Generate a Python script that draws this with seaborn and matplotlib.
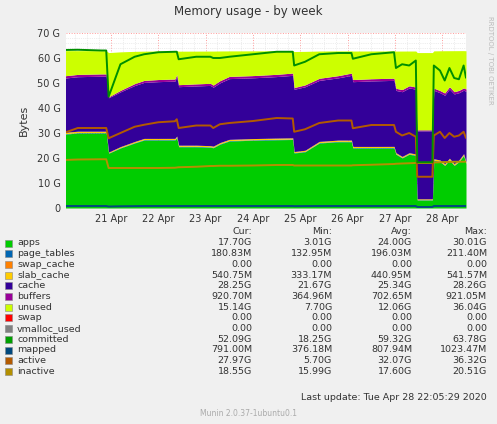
import numpy as np
import pandas as pd
import seaborn as sns
import matplotlib.pyplot as plt

# time in days since 20 Apr 00:00
t = [0.0, 0.3, 0.8, 0.9, 0.95, 1.2, 1.5, 1.7, 2.0, 2.35, 2.39, 2.43, 2.8, 3.1, 3.16, 3.3, 3.5, 4.0, 4.5, 4.84,
     4.87, 5.1, 5.4, 5.8, 6.08, 6.11, 6.5, 6.98, 7.02, 7.15, 7.3, 7.44, 7.47, 7.79, 7.82, 7.95, 8.05, 8.15, 8.25,
     8.35, 8.45, 8.5]
apps = [29.5, 30.0, 30.0, 30.0, 21.9, 24.0, 26.0, 27.2, 27.2, 27.2, 28.1, 24.5, 24.5, 24.3, 24.1, 25.5, 26.8, 27.1,
        27.3, 27.4, 22.0, 22.5, 26.0, 26.5, 26.5, 24.0, 24.0, 24.0, 21.5, 20.0, 21.5, 21.0, 3.2, 3.2, 19.0, 18.5,
        17.0, 19.2, 17.0, 18.5, 21.0, 17.7]
page_tables = [0.18, 0.18, 0.18, 0.18, 0.15, 0.16, 0.17, 0.18, 0.18, 0.18, 0.19, 0.18, 0.18, 0.18, 0.18, 0.19, 0.19,
               0.19, 0.19, 0.19, 0.17, 0.17, 0.18, 0.19, 0.19, 0.18, 0.18, 0.19, 0.18, 0.18, 0.18, 0.18, 0.13, 0.13,
               0.18, 0.18, 0.18, 0.18, 0.18, 0.18, 0.19, 0.18]
slab_cache = [0.54, 0.54, 0.54, 0.54, 0.34, 0.40, 0.44, 0.46, 0.46, 0.47, 0.48, 0.45, 0.45, 0.45, 0.45, 0.46, 0.47,
              0.48, 0.48, 0.48, 0.42, 0.43, 0.46, 0.47, 0.47, 0.45, 0.45, 0.46, 0.44, 0.44, 0.44, 0.44, 0.34, 0.34,
              0.52, 0.53, 0.53, 0.54, 0.54, 0.54, 0.54, 0.54]
cache = [21.7, 21.8, 22.0, 22.0, 21.7, 21.9, 22.4, 22.4, 22.7, 22.9, 23.8, 23.4, 23.7, 24.1, 23.6, 23.9, 24.3, 24.3,
         24.6, 25.0, 24.9, 25.4, 24.4, 24.9, 25.9, 25.9, 26.2, 26.4, 24.9, 25.9, 25.9, 25.9, 27.2, 27.2, 27.4, 26.9,
         27.4, 27.7, 27.9, 26.9, 25.4, 28.25]
buffers = [0.92, 0.92, 0.92, 0.92, 0.37, 0.60, 0.75, 0.80, 0.85, 0.86, 0.87, 0.80, 0.82, 0.84, 0.84, 0.86, 0.88,
           0.89, 0.90, 0.90, 0.70, 0.75, 0.85, 0.88, 0.90, 0.85, 0.87, 0.88, 0.85, 0.86, 0.87, 0.88, 0.40, 0.40,
           0.85, 0.88, 0.90, 0.90, 0.91, 0.92, 0.92, 0.92]
unused = [10.1, 9.5, 9.3, 9.3, 17.7, 15.4, 12.9, 11.7, 11.4, 11.2, 9.4, 13.4, 13.1, 12.9, 13.6, 11.9, 10.2, 9.9, 9.4,
          8.9, 14.4, 13.4, 10.9, 9.9, 8.9, 11.4, 11.1, 10.9, 14.9, 15.4, 13.9, 14.4, 30.9, 30.9, 14.9, 15.9, 16.9,
          14.4, 16.4, 15.9, 14.9, 15.3]
committed = [63.2, 63.3, 63.0, 63.0, 44.5, 57.5, 60.5, 61.5, 62.3, 62.5, 62.5, 59.5, 60.5, 60.5, 60.0, 60.0, 60.5,
             61.5, 62.5, 62.5, 57.0, 58.5, 61.5, 62.0, 62.0, 59.7, 61.5, 62.3, 56.0, 57.5, 57.0, 59.0, 18.3, 18.3,
             57.0, 55.0, 51.0, 56.0, 52.0, 51.5, 57.0, 52.1]
mapped = [0.8, 0.8, 0.8, 0.8, 0.6, 0.7, 0.75, 0.8, 0.8, 0.8, 0.8, 0.8, 0.8, 0.8, 0.8, 0.8, 0.8, 0.8, 0.8, 0.8, 0.75,
          0.78, 0.8, 0.8, 0.8, 0.8, 0.8, 0.8, 0.8, 0.8, 0.8, 0.8, 0.4, 0.4, 0.8, 0.8, 0.8, 0.8, 0.8, 0.8, 0.8, 0.79]
active = [30.0, 32.0, 32.0, 32.0, 27.9, 30.0, 32.5, 33.3, 34.3, 34.7, 35.5, 32.0, 33.0, 33.0, 32.0, 33.5, 34.0, 34.8,
          36.0, 35.8, 30.5, 31.5, 34.0, 35.0, 35.0, 31.9, 33.2, 33.2, 30.5, 29.0, 30.0, 28.5, 12.5, 12.5, 29.0, 30.5,
          28.0, 30.0, 28.5, 29.0, 30.5, 28.0]
inactive = [19.2, 19.4, 19.5, 19.5, 16.0, 16.0, 16.0, 16.0, 16.0, 16.1, 16.2, 16.3, 16.5, 16.8, 16.8, 16.9, 16.9,
            17.0, 17.2, 17.2, 17.0, 17.0, 17.0, 17.0, 17.0, 17.1, 17.3, 17.6, 17.7, 17.8, 17.9, 18.0, 18.0, 18.0,
            18.2, 18.3, 18.4, 18.4, 18.5, 18.5, 18.5, 18.55]

day_labels = ["21 Apr", "22 Apr", "23 Apr", "24 Apr", "25 Apr", "26 Apr", "27 Apr", "28 Apr"]
y_labels = ["0", "10 G", "20 G", "30 G", "40 G", "50 G", "60 G", "70 G"]

legend_rows = [
    ("apps", "#00CC00", "17.70G", "3.01G", "24.00G", "30.01G"),
    ("page_tables", "#0066B3", "180.83M", "132.95M", "196.03M", "211.40M"),
    ("swap_cache", "#FF8000", "0.00", "0.00", "0.00", "0.00"),
    ("slab_cache", "#FFCC00", "540.75M", "333.17M", "440.95M", "541.57M"),
    ("cache", "#330099", "28.25G", "21.67G", "25.34G", "28.26G"),
    ("buffers", "#990099", "920.70M", "364.96M", "702.65M", "921.05M"),
    ("unused", "#CCFF00", "15.14G", "7.70G", "12.06G", "36.04G"),
    ("swap", "#FF0000", "0.00", "0.00", "0.00", "0.00"),
    ("vmalloc_used", "#808080", "0.00", "0.00", "0.00", "0.00"),
    ("committed", "#00A000", "52.09G", "18.25G", "59.32G", "63.78G"),
    ("mapped", "#00487D", "791.00M", "376.18M", "807.94M", "1023.47M"),
    ("active", "#B35A00", "27.97G", "5.70G", "32.07G", "36.32G"),
    ("inactive", "#B38F00", "18.55G", "15.99G", "17.60G", "20.51G"),
]

sns.set_style("white")
plt.rcParams['font.family'] = ['DejaVu Sans']

fig = plt.figure(figsize=(4.97, 4.24), dpi=100, facecolor="#F0F0F0")
ax = fig.add_axes([66 / 497, (424 - 208) / 424, 400 / 497, 175 / 424])
ax.set_facecolor("white")

zeros = [0.0] * len(t)
ax.stackplot(t, apps, page_tables, zeros, slab_cache, cache, buffers, unused,
             colors=["#00CC00", "#0066B3", "#FF8000", "#FFCC00", "#330099", "#990099", "#CCFF00"],
             linewidth=0, zorder=2)

df = pd.DataFrame({"t": t, "committed": committed, "mapped": mapped, "active": active, "inactive": inactive})
for col, color in [("inactive", "#B38F00"), ("active", "#B35A00"), ("mapped", "#00487D"), ("committed", "#008F00")]:
    sns.lineplot(data=df, x="t", y=col, ax=ax, color=color, linewidth=1.4, zorder=3)

ax.set_xlim(0.05, 8.5)
ax.set_ylim(0, 70)
ax.set_yticks(range(0, 71, 10))
ax.set_yticklabels(y_labels, fontsize=7, color="#333333")
ax.set_yticks(range(0, 71, 2), minor=True)
ax.set_xticks(range(1, 9))
ax.set_xticklabels(day_labels, fontsize=7, color="#333333")
ax.set_xticks(np.arange(0.25, 8.5, 0.25), minor=True)
ax.grid(which="major", color="#FF9999", linestyle=":", linewidth=0.7, zorder=1)
ax.grid(which="minor", color="#DDDDDD", linestyle=":", linewidth=0.5, zorder=1)
ax.tick_params(axis="both", which="both", length=2, color="#999999", pad=2)
ax.set_xlabel("")
ax.set_ylabel("Bytes", fontsize=8, color="#333333", labelpad=6)
for s in ax.spines.values():
    s.set_visible(False)
ax.axhline(0, color="#999999", linewidth=0.8, zorder=4)

fig.text(0.5, 1 - 12 / 424, "Memory usage - by week", ha="center", va="center", fontsize=8.5, color="#333333")
fig.text(490 / 497, 1 - 60 / 424, "RRDTOOL / TOBI OETIKER", rotation=270, ha="center", va="center",
         fontsize=5, color="#BBBBBB")

fs = 6.8
cols_x = [252, 332, 412, 487]
y0 = 232
for x, h in zip(cols_x, ["Cur:", "Min:", "Avg:", "Max:"]):
    fig.text(x / 497, 1 - y0 / 424, h, ha="right", va="center", fontsize=fs, color="#333333")
for i, (name, color, *vals) in enumerate(legend_rows):
    y = 243 + i * 10.7
    fig.patches.append(plt.Rectangle((5 / 497, 1 - (y + 3.5) / 424), 7 / 497, 7 / 424,
                                     transform=fig.transFigure, facecolor=color, edgecolor="#888888", lw=0.4))
    fig.text(17 / 497, 1 - y / 424, name, ha="left", va="center", fontsize=fs, color="#333333")
    for x, v in zip(cols_x, vals):
        fig.text(x / 497, 1 - y / 424, v, ha="right", va="center", fontsize=fs, color="#333333")
fig.text(487 / 497, 1 - 397 / 424, "Last update: Tue Apr 28 22:05:29 2020", ha="right", va="center",
         fontsize=fs, color="#333333")
fig.text(0.5, 1 - 413 / 424, "Munin 2.0.37-1ubuntu0.1", ha="center", va="center", fontsize=5.5, color="#AAAAAA")

fig.savefig("out.png", dpi=100, facecolor=fig.get_facecolor())
